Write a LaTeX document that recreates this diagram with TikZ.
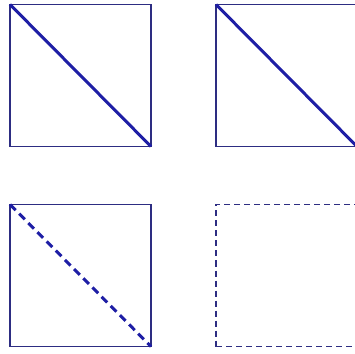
\documentclass[tikz,border=0pt]{standalone}
\usepackage{xcolor}
\usetikzlibrary{positioning}

\definecolor{framenavy}{RGB}{45,45,130}
\definecolor{diagblue}{RGB}{30,30,165}

\begin{document}
\begin{tikzpicture}[
        x=1pt, y=1pt,
        node distance=58pt and 65pt,
        sq/.style={rectangle, draw=framenavy, line width=1.6pt, minimum width=141pt, minimum height=142pt, inner sep=0pt, outer sep=0pt},
        dashsq/.style={sq, dash pattern=on 6pt off 4pt},
        diag/.style={draw=diagblue, line width=3pt},
        dashdiag/.style={diag, dash pattern=on 8pt off 5pt}
        ]
        \useasboundingbox (0,0) rectangle (355,353);

        % Top Row: solid squares with solid diagonals
        \node (tl) [sq] at (80.5,277.5) {};
        \node (tr) [sq, right=of tl] {};

        \draw [diag] (tl.north west) -- (tl.south east);
        \draw [diag] (tr.north west) -- (tr.south east);

        % Bottom Row: dashed diagonal, dashed frame
        \node (bl) [sq, below=of tl] {};
        \node (br) [dashsq, right=of bl] {};

        \draw [dashdiag] (bl.north west) -- (bl.south east);

    \end{tikzpicture}
\end{document}
